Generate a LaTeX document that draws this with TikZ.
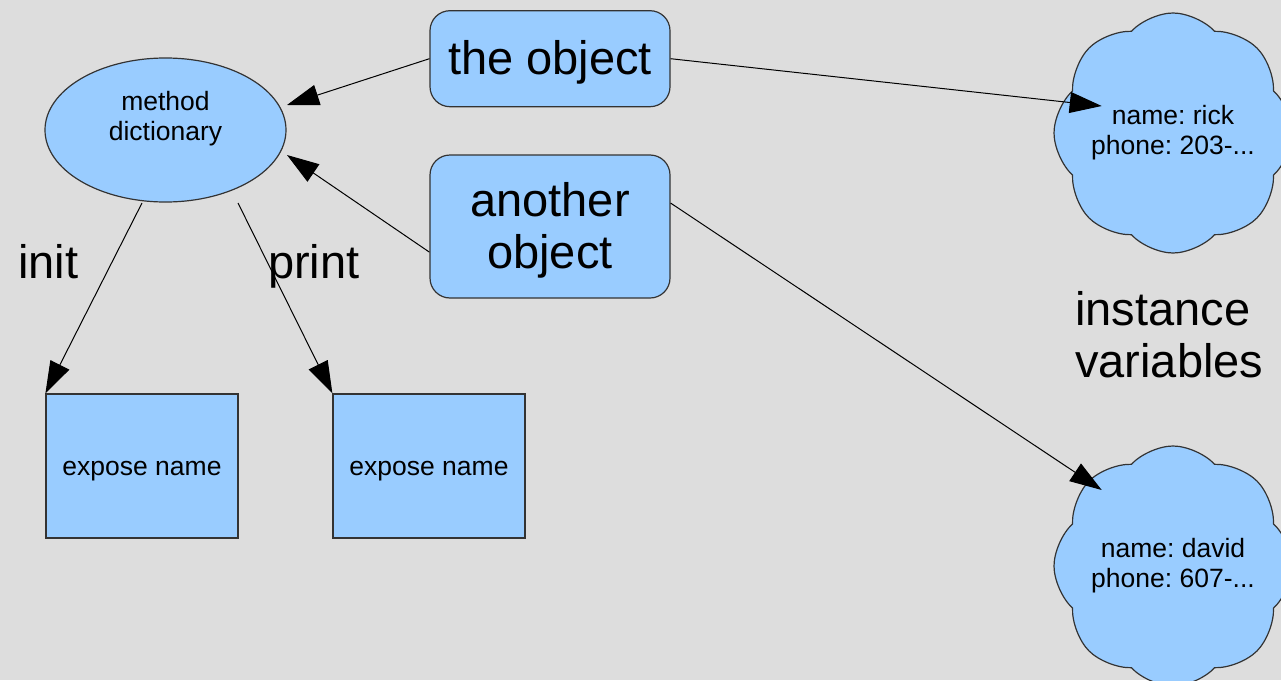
\documentclass[tikz,border=0pt]{standalone}
\usepackage{fontspec}
\setmainfont{Liberation Sans}
\usepackage{tikz}
\usetikzlibrary{arrows.meta,shapes.geometric,shapes.symbols}
\definecolor{canvas}{HTML}{DDDDDD}
\definecolor{sky}{HTML}{99CCFF}
\definecolor{rim}{HTML}{333333}
\newcommand{\bigtext}{\fontsize{47}{51.6}\selectfont}
\newcommand{\smalltext}{\fontsize{26.5}{30}\selectfont}
\frenchspacing
\begin{document}
\begin{tikzpicture}[x=1pt,y=-1pt,
  shape base/.style={fill=sky, draw=rim, line width=1.2pt, inner sep=0pt},
  objbox/.style={shape base, rectangle, rounded corners=20pt,
    minimum width=240pt, font=\bigtext, align=center, text depth=2pt},
  dictnode/.style={shape base, ellipse, minimum width=241pt,
    minimum height=144pt, font=\smalltext, align=center, text depth=27.3pt},
  slot/.style={shape base, rectangle, minimum width=192pt,
    minimum height=144pt, font=\smalltext, text height=19pt, text depth=0pt},
  puff/.style={shape base, cloud, cloud puffs=8, cloud puff arc=95,
    cloud ignores aspect, minimum width=238pt, minimum height=240pt,
    font=\smalltext, align=center},
  tag/.style={inner sep=0pt, font=\bigtext},
  link/.style={line width=1pt, -{Triangle[length=32pt,width=21pt]}}]
  \fill[canvas] (0,0) rectangle (1281,680);
  \useasboundingbox (0,0) rectangle (1281,680);

  \node[dictnode] (dict) at (165.5,130) {method\\dictionary};
  \node[objbox, minimum height=96pt] (obj) at (550,58.7) {the object};
  \node[objbox, minimum height=143pt] (another) at (550,226.5) {another\\object};
  \node[slot] (expA) at (142,466) {expose name};
  \node[slot] (expB) at (429,466) {expose name};
  \node[puff] (rick) at (1173,133) {name: rick\\phone: 203-...};
  \node[puff] (david) at (1173,566) {name: david\\phone: 607-...};

  \node[tag, anchor=base west] (init) at (18,278) {init};
  \node[tag, anchor=base west] (print) at (268,278) {print};
  \node[tag, anchor=west, align=left] (ivars) at (1075,334.7) {instance\\variables};

  % loose ends of the connectors
  \coordinate (dictA) at (287,105);
  \coordinate (dictB) at (287,155);
  \coordinate (initfrom) at (142,203);
  \coordinate (printfrom) at (238,203);
  \coordinate (rickin) at (1101.7,106);
  \coordinate (davidin) at (1101.7,490);

  \draw[link] (obj.west) -- (dictA);
  \draw[link] (another.192) -- (dictB);
  \draw[link] (initfrom) -- (expA.north west);
  \draw[link] (printfrom) -- (expB.north west);
  \draw[link] (obj.east) -- (rickin);
  \draw[link] (another.11.2) -- (davidin);
\end{tikzpicture}
\end{document}
